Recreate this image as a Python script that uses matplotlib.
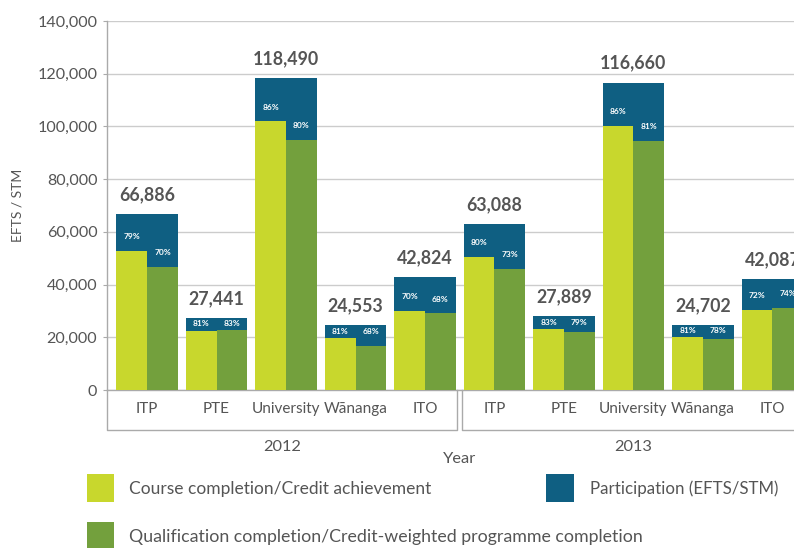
import matplotlib
matplotlib.use("Agg")
import matplotlib.pyplot as plt
from matplotlib.patches import Rectangle

# ---- data ----
years = ["2012", "2013"]
sectors = ["ITP", "PTE", "University", "Wānanga", "ITO"]
participation = [66886, 27441, 118490, 24553, 42824,
                 63088, 27889, 116660, 24702, 42087]
course_pct = [79, 81, 86, 81, 70, 80, 83, 86, 81, 72]
qual_pct = [70, 83, 80, 68, 68, 73, 79, 81, 78, 74]
course_completion = [52840, 22227, 101901, 19888, 29977,
                     50470, 23148, 100328, 20009, 30303]
qual_completion = [46820, 22776, 94792, 16696, 29120,
                   46054, 22032, 94495, 19268, 31144]
yticks = [0, 20000, 40000, 60000, 80000, 100000, 120000, 140000]

# ---- style ----
C_LIGHT = "#c8d72d"
C_DARK = "#73a03d"
C_BLUE = "#0f5f82"
C_TEXT = "#555555"
C_LINE = "#aaaaaa"
FONT = ["Lato", "DejaVu Sans"]
plt.rcParams["font.family"] = FONT

W, H = 794, 548
fig = plt.figure(figsize=(W / 100, H / 100), dpi=100)
ax_left, ax_right, ax_top, ax_bot = 107, 812.5, 21, 390
ax = fig.add_axes([ax_left / W, 1 - ax_bot / H,
                   (ax_right - ax_left) / W, (ax_bot - ax_top) / H])

n = len(participation)
xs = list(range(n))
bw = 0.89
for i in xs:
    ax.bar(i, participation[i], width=bw, color=C_BLUE, zorder=2, linewidth=0)
    ax.bar(i - bw / 4, course_completion[i], width=bw / 2, color=C_LIGHT,
           zorder=3, linewidth=0)
    ax.bar(i + bw / 4, qual_completion[i], width=bw / 2, color=C_DARK,
           zorder=3, linewidth=0)
    ax.annotate(f"{participation[i]:,}", (i, participation[i]),
                xytext=(0, 10), textcoords="offset points",
                ha="center", va="baseline", fontsize=12.8,
                fontweight="bold", color=C_TEXT, annotation_clip=False)
    for dx, val, pct in ((-bw / 4, course_completion[i], course_pct[i]),
                         (bw / 4, qual_completion[i], qual_pct[i])):
        ly = min(val + 5400, participation[i] - 2300)
        ax.text(i + dx, ly, f"{pct}%", ha="center", va="center",
                fontsize=6, fontweight="bold", color="white", zorder=4)

ax.set_xlim(-0.576, n - 1 + 0.576)
ax.set_ylim(0, 140000)
ax.set_yticks(yticks)
ax.set_yticklabels([f"{v:,}" for v in yticks])
ax.tick_params(axis="y", length=3, color=C_LINE, labelsize=11.6,
               labelcolor=C_TEXT, pad=4)
ax.set_xticks([])
ax.grid(axis="y", color="#cccccc", linewidth=1)
ax.set_axisbelow(True)
for s in ("top", "right"):
    ax.spines[s].set_visible(False)
for s in ("left", "bottom"):
    ax.spines[s].set_color(C_LINE)
    ax.spines[s].set_linewidth(1)

ax.set_ylabel("EFTS / STM", fontsize=10, color=C_TEXT, labelpad=10)

tr = ax.get_xaxis_transform()
axh = ax_bot - ax_top
# category labels
for i in xs:
    ax.text(i, -19 / axh, sectors[i % len(sectors)], transform=tr,
            ha="center", va="center", fontsize=11, color=C_TEXT)
# group brackets
ybr = -40 / axh
ns = len(sectors)
for g, yr in enumerate(years):
    x0 = -0.576 if g == 0 else g * ns - 0.5 + 0.035
    x1 = g * ns + ns - 0.5 - 0.035 if g < len(years) - 1 else n - 1 + 0.576
    ax.plot([x0, x0, x1, x1], [0, ybr, ybr, 0], transform=tr, color=C_LINE,
            lw=1, clip_on=False, zorder=1)
    ax.text((x0 + x1) / 2 - (0.06 if g == 1 else 0), -57 / axh, yr,
            transform=tr, ha="center", va="center", fontsize=11.8,
            color=C_TEXT)
ax.text(0.5, -69 / axh, "Year", transform=ax.transAxes, ha="center",
        va="center", fontsize=11.8, color=C_TEXT)

# legend (manual)
def fig_rect(x0, y0, x1, y1, color):
    fig.patches.append(Rectangle((x0 / W, 1 - y1 / H), (x1 - x0) / W,
                                 (y1 - y0) / H, transform=fig.transFigure,
                                 color=color, linewidth=0))

fig_rect(87, 474, 114, 502, C_LIGHT)
fig_rect(87, 522, 114, 550, C_DARK)
fig_rect(546, 474, 574, 502, C_BLUE)
fig.text(129 / W, 1 - 489 / H, "Course completion/Credit achievement",
         ha="left", va="center", fontsize=12.5, color=C_TEXT)
fig.text(590 / W, 1 - 489 / H, "Participation (EFTS/STM)",
         ha="left", va="center", fontsize=12.2, color=C_TEXT)
fig.text(129 / W, 1 - 537 / H,
         "Qualification completion/Credit-weighted programme completion",
         ha="left", va="center", fontsize=12.8, color=C_TEXT)

fig.savefig("out.png", dpi=100)
